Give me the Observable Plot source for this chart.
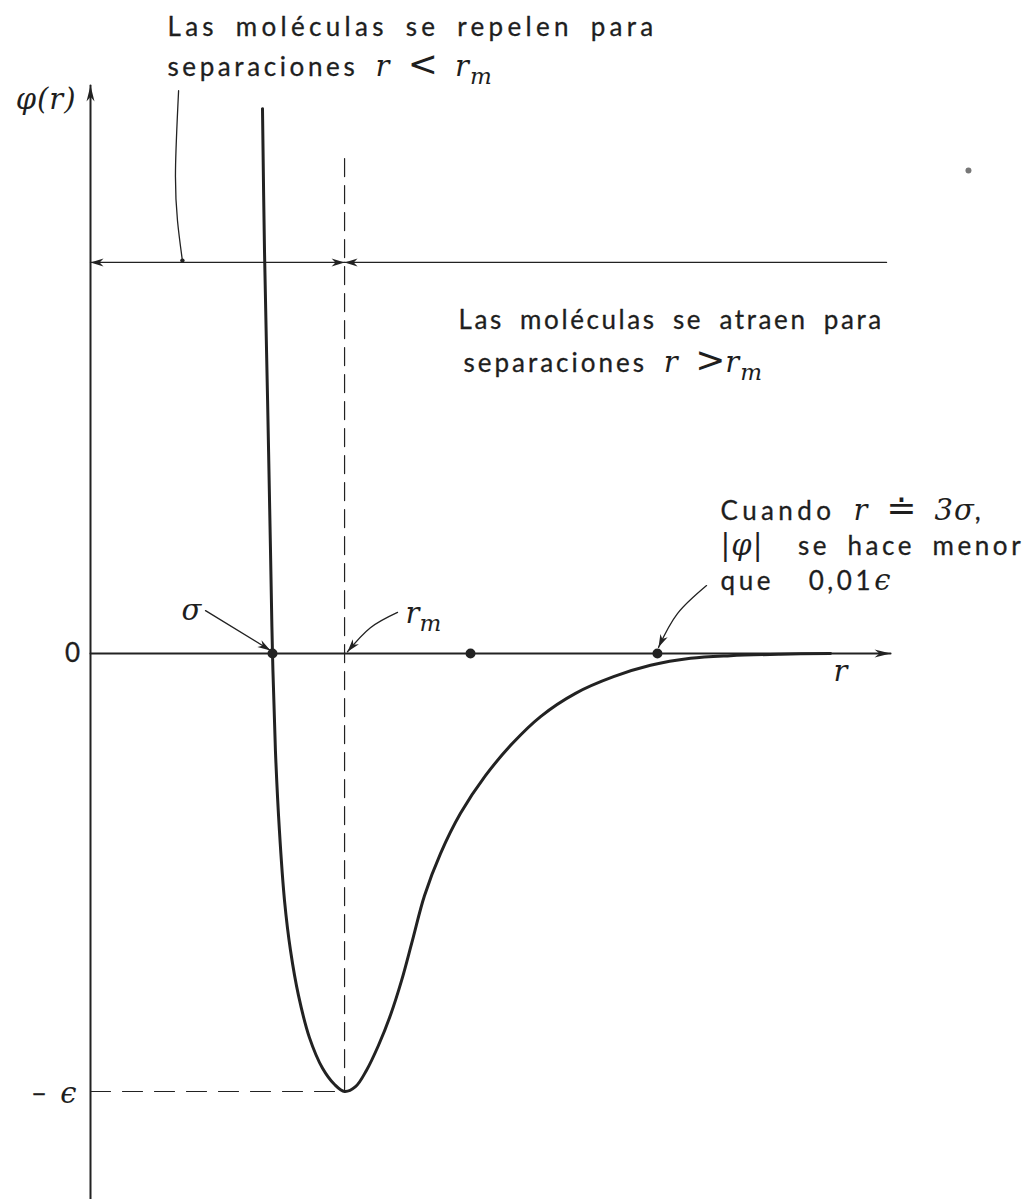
<!DOCTYPE html>
<html><head><meta charset="utf-8">
<script src="https://cdn.jsdelivr.net/npm/d3@7"></script>
<script src="https://cdn.jsdelivr.net/npm/@observablehq/plot@0.6"></script>
<style>
html,body{margin:0;padding:0;background:#fff;}
#chart svg text{white-space:pre;}
</style></head><body><div id="chart"></div>
<script>
// ---- Potential curve φ(r), r in units of σ, φ in units of ε
const curveR   = [0.945,0.956,0.973,0.989,1.000,1.016,1.038,1.066,1.099,1.143,1.203,1.275,1.341,1.396,1.456,1.516,1.582,1.648,1.709,1.769,1.835,1.923,2.033,2.170,2.319,2.473,2.665,2.874,3.077,3.297,3.516,3.791,4.066];
const curvePhi = [1.244,0.920,0.578,0.235,0.000,-0.221,-0.404,-0.564,-0.678,-0.781,-0.877,-0.947,-0.984,-1.000,-0.989,-0.952,-0.895,-0.826,-0.747,-0.655,-0.553,-0.457,-0.365,-0.279,-0.205,-0.144,-0.091,-0.053,-0.027,-0.011,-0.005,-0.0016,0.000];

// ---- Axes and reference positions
const axisYR = [0, 0];          const axisYPhi = [-1.2466, 1.297];
const axisXR = [0, 4.396];      const axisXPhi = [0, 0];
const rm = 1.396;               const rmTopPhi = 1.130;
const epsPhi = -1;
const bracketPhi = 0.893;       const bracketEndR = 4.374;
const dotsR = [1.000, 2.088, 3.115];
const dotsPhi = [0, 0, 0];
const speckR = [4.824];         const speckPhi = [1.103];

// ---- Leader lines / pointer arrows
const repelLeaderR   = [0.484, 0.467, 0.478, 0.505];
const repelLeaderPhi = [1.285, 1.103, 0.988, 0.897];
const sigmaArrowR    = [0.632, 0.989];
const sigmaArrowPhi  = [0.098, 0.007];
const rmArrowR       = [1.687, 1.538, 1.412];
const rmArrowPhi     = [0.094, 0.059, 0.004];
const tailArrowR     = [3.385, 3.225, 3.121];
const tailArrowPhi   = [0.155, 0.091, 0.014];

// ---- Labels (*...* = math italic, _..._ = subscript, ~...~ = relation symbol)
const labelMarkup = [
  "Las moléculas se repelen para",
  "separaciones *r* ~<~ *r*_m_",
  "*φ(r)*",
  "Las moléculas se atraen para",
  "separaciones *r* ~>~*r*_m_",
  "Cuando *r* ~≐~ *3σ*,",
  "*|φ|*  se hace menor",
  "que  0,01*ϵ*",
  "*σ*",
  "*r*_m_",
  "0",
  "− *ϵ*",
  "*r*"
];
const labelR      = [0.423, 0.423, -0.077, 2.022, 2.049, 3.462, 3.462, 3.462, 0.555, 1.731, -0.099, -0.077, 4.121];
const labelPhi    = [1.429, 1.338, 1.263, 0.760, 0.662, 0.324, 0.244, 0.164, 0.096, 0.089, 0.000, -1.007, -0.043];
const labelAnchor = ["start","start","end","start","start","start","start","start","middle","start","middle","end","middle"];
// typographic tuning per label (letter spacing of the plain text, px)
const labelTracking = [4.3, 3.6, 1, 2.6, 3.0, 4.4, 3.6, 3.6, 0, 0, 0, 0, 0];

// ---------------------------------------------------------------
const ink = "#222";
function plain(s){ return s.replace(/\*([^*]+)\*/g,"$1").replace(/_([^_]+)_/g,"$1").replace(/~([^~]+)~/g,"$1"); }
const indexByPlain = new Map(labelMarkup.map((s, i) => [plain(s), i]));

function arrowHead(len, wid) {
  return (color) => {
    const ns = "http://www.w3.org/2000/svg";
    const m = document.createElementNS(ns, "marker");
    m.setAttribute("viewBox", `${-len} ${-wid} ${len + 1} ${2 * wid}`);
    m.setAttribute("markerWidth", len + 1);
    m.setAttribute("markerHeight", 2 * wid);
    m.setAttribute("markerUnits", "userSpaceOnUse");
    m.setAttribute("orient", "auto-start-reverse");
    m.setAttribute("refX", 0);
    m.setAttribute("refY", 0);
    m.setAttribute("overflow", "visible");
    const p = document.createElementNS(ns, "path");
    p.setAttribute("d", `M0,0L${-len},${-wid}L${-len * 0.7},0L${-len},${wid}Z`);
    p.setAttribute("fill", color);
    p.setAttribute("stroke", "none");
    m.appendChild(p);
    return m;
  };
}
const bigHead = arrowHead(16, 4);
const smallHead = arrowHead(13, 4);

const idx = a => a.map((_, i) => i);
const labelIdx = idx(labelMarkup);
function textMark(anchor) {
  return Plot.text(labelIdx.filter(i => labelAnchor[i] === anchor), {
    x: i => labelR[i], y: i => labelPhi[i], text: i => plain(labelMarkup[i]),
    textAnchor: anchor, lineAnchor: "middle", fontSize: 26, fill: "#1e1e1e",
    stroke: "#1e1e1e", strokeWidth: 0.3, className: "rich"
  });
}

const svg = Plot.plot({
  width: 1029, height: 1199,
  marginLeft: 90, marginRight: 29, marginTop: 0, marginBottom: 0,
  x: {domain: [0, 5], axis: null},
  y: {domain: [-1.2466, 1.4909], axis: null},
  style: {background: "#fff", fontFamily: "Lato, 'Noto Sans', sans-serif", overflow: "visible"},
  marks: [
    // axes
    Plot.line(idx(axisYR), {x: i => axisYR[i], y: i => axisYPhi[i], stroke: ink, strokeWidth: 2, markerEnd: bigHead}),
    Plot.line(idx(axisXR), {x: i => axisXR[i], y: i => axisXPhi[i], stroke: ink, strokeWidth: 2, markerEnd: bigHead}),
    // dashed r_m vertical and -ε horizontal
    Plot.line([0, 1], {x: () => rm, y: i => [rmTopPhi, epsPhi][i], stroke: ink, strokeWidth: 1.2, strokeDasharray: "18,9"}),
    Plot.line([0, 1], {x: i => [0, rm][i], y: () => epsPhi, stroke: ink, strokeWidth: 1.2, strokeDasharray: "20,12"}),
    // bracket arrows at top
    Plot.line([0, 1], {x: i => [0, rm][i], y: () => bracketPhi, stroke: ink, strokeWidth: 1.2, markerStart: smallHead, markerEnd: smallHead}),
    Plot.line([0, 1], {x: i => [rm, bracketEndR][i], y: () => bracketPhi, stroke: ink, strokeWidth: 1.2, markerStart: smallHead}),
    // leader from the "repelen" text
    Plot.line(idx(repelLeaderR), {x: i => repelLeaderR[i], y: i => repelLeaderPhi[i], curve: "natural", stroke: ink, strokeWidth: 1.3}),
    Plot.dot([repelLeaderR.length - 1], {x: i => repelLeaderR[i], y: i => repelLeaderPhi[i], r: 2.2, fill: ink}),
    // pointer arrows
    Plot.line(idx(sigmaArrowR), {x: i => sigmaArrowR[i], y: i => sigmaArrowPhi[i], stroke: ink, strokeWidth: 1.3, markerEnd: smallHead}),
    Plot.line(idx(rmArrowR), {x: i => rmArrowR[i], y: i => rmArrowPhi[i], curve: "natural", stroke: ink, strokeWidth: 1.3, markerEnd: smallHead}),
    Plot.line(idx(tailArrowR), {x: i => tailArrowR[i], y: i => tailArrowPhi[i], curve: "natural", stroke: ink, strokeWidth: 1.3, markerEnd: smallHead}),
    // potential curve
    Plot.line(idx(curveR), {x: i => curveR[i], y: i => curvePhi[i], curve: "catmull-rom", stroke: ink, strokeWidth: 3}),
    // dots on the axis
    Plot.dot(idx(dotsR), {x: i => dotsR[i], y: i => dotsPhi[i], r: 5, fill: ink}),
    Plot.dot(idx(speckR), {x: i => speckR[i], y: i => speckPhi[i], r: 3, fill: "#777"}),
    // labels
    textMark("start"), textMark("middle"), textMark("end")
  ]
});

// rich text: math italics, relation symbols and subscripts
d3.select(svg).selectAll("g.rich text").each(function () {
  const i = indexByPlain.get(this.textContent);
  if (i === undefined) return;
  const markup = labelMarkup[i];
  const t = d3.select(this);
  t.text(null);
  const parts = markup.split(/(\*[^*]+\*|_[^_]+_|~[^~]+~)/).filter(s => s);
  let down = false;
  for (const part of parts) {
    const ts = t.append("tspan");
    if (part.startsWith("*")) {
      ts.text(part.slice(1, -1)).attr("font-family", "'DejaVu Serif', serif").attr("font-style", "italic")
        .attr("font-size", 29).attr("stroke", "none").attr("letter-spacing", labelTracking[i] ? 1 : 0);
    } else if (part.startsWith("~")) {
      ts.text(part.slice(1, -1)).attr("font-family", "'DejaVu Sans', sans-serif").attr("font-size", 36)
        .attr("stroke", "none").attr("letter-spacing", 0);
    } else if (part.startsWith("_")) {
      ts.text(part.slice(1, -1)).attr("font-family", "'DejaVu Serif', serif").attr("font-style", "italic")
        .attr("font-size", 23).attr("stroke", "none").attr("dy", 8);
      down = true;
      continue;
    } else {
      ts.text(part).attr("letter-spacing", labelTracking[i]).attr("word-spacing", 7);
    }
    if (down) { ts.attr("dy", -8); down = false; }
  }
});

document.getElementById("chart").appendChild(svg);
</script>
</body></html>
